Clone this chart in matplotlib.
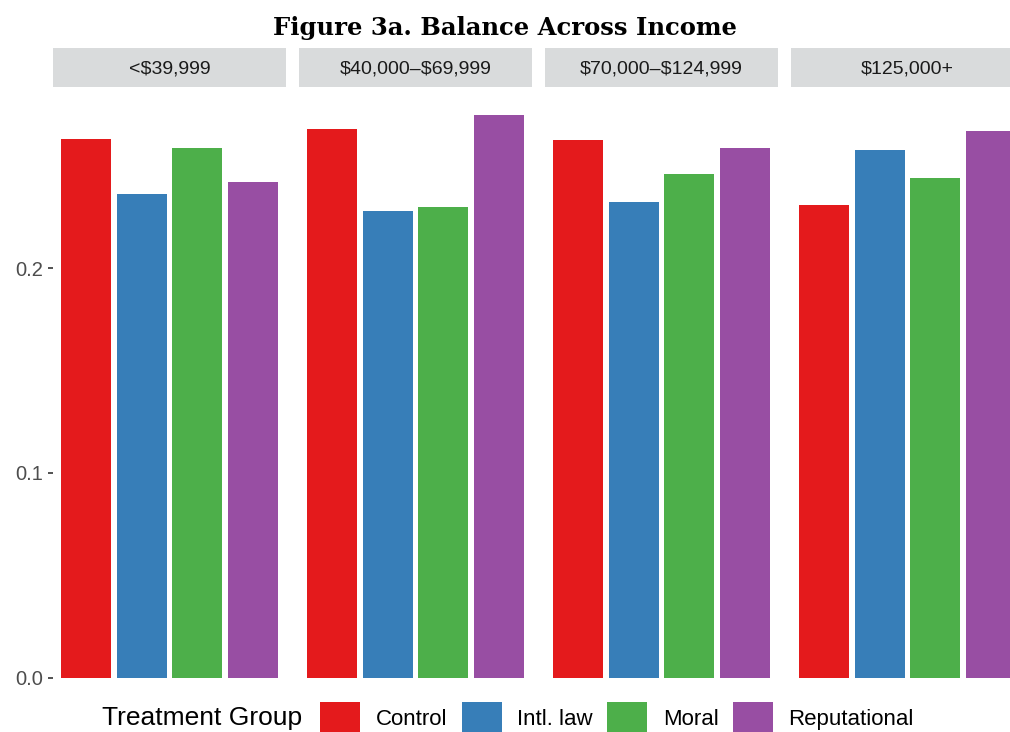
import matplotlib
matplotlib.use('Agg')
import matplotlib.pyplot as plt
from matplotlib.patches import Patch

plt.rcParams['font.family'] = ['Liberation Sans', 'DejaVu Sans']
plt.rcParams['text.parse_math'] = False

# values
incomes = ['<$39,999', '$40,000\u2013$69,999', '$70,000\u2013$124,999', '$125,000+']
groups = ['Control', 'Intl. law', 'Moral', 'Reputational']
colors = ['#E41A1C', '#377EB8', '#4DAF4A', '#984EA3']

share_low = [0.263, 0.236, 0.2585, 0.242]
share_midlow = [0.268, 0.228, 0.2298, 0.2746]
share_midhigh = [0.2624, 0.232, 0.246, 0.2585]
share_high = [0.2307, 0.2576, 0.244, 0.267]
shares = [share_low, share_midlow, share_midhigh, share_high]

W, H = 1010, 732
fig = plt.figure(figsize=(W / 100, H / 100), dpi=100)

ymax = max(max(s) for s in shares)
pad = 0.05 * ymax

panel_w = 233
for i, (inc, vals) in enumerate(zip(incomes, shares)):
    left = 53 + i * 246
    ax = fig.add_axes([left / W, 1 - 706 / H, panel_w / W, 619 / H])
    x = range(1, len(groups) + 1)
    ax.bar(x, vals, width=0.9, color=colors)
    ax.set_xlim(0.4, 4.6)
    ax.set_ylim(-pad, ymax + pad)
    for s in ax.spines.values():
        s.set_visible(False)
    ax.set_xticks([])
    ax.set_yticks([0.0, 0.1, 0.2])
    if i == 0:
        ax.set_yticklabels(['0.0', '0.1', '0.2'])
        ax.tick_params(axis='y', length=3.5, width=1.2, color='#333333',
                       labelsize=14.5, labelcolor='#4D4D4D', pad=3.5)
    else:
        ax.tick_params(axis='y', length=0, labelleft=False)

    # facet strip
    sax = fig.add_axes([left / W, 1 - 87 / H, panel_w / W, 39 / H])
    sax.set_facecolor('#D9DBDC')
    sax.set_xticks([])
    sax.set_yticks([])
    for s in sax.spines.values():
        s.set_visible(False)
    sax.text(0.5, 0.47, inc, ha='center', va='center', fontsize=14,
             color='#1A1A1A', transform=sax.transAxes)

fig.text(0.5, 1 - 28 / H, 'Figure 3a. Balance Across Income', ha='center', va='center',
         fontsize=17.5, fontweight='bold', family='DejaVu Serif')

fig.text(102 / W, 1 - 718 / H, 'Treatment Group', ha='left', va='center', fontsize=19)
handles = [Patch(facecolor=c, edgecolor='none') for c in colors]
fig.legend(handles, groups, loc='center left', bbox_to_anchor=(320 / W, 1 - 718 / H),
           ncol=4, frameon=False, fontsize=16, handlelength=1.8, handleheight=1.8,
           handletextpad=0.7, columnspacing=0.65, borderpad=0, borderaxespad=0)

fig.savefig('out.png', dpi=100)
